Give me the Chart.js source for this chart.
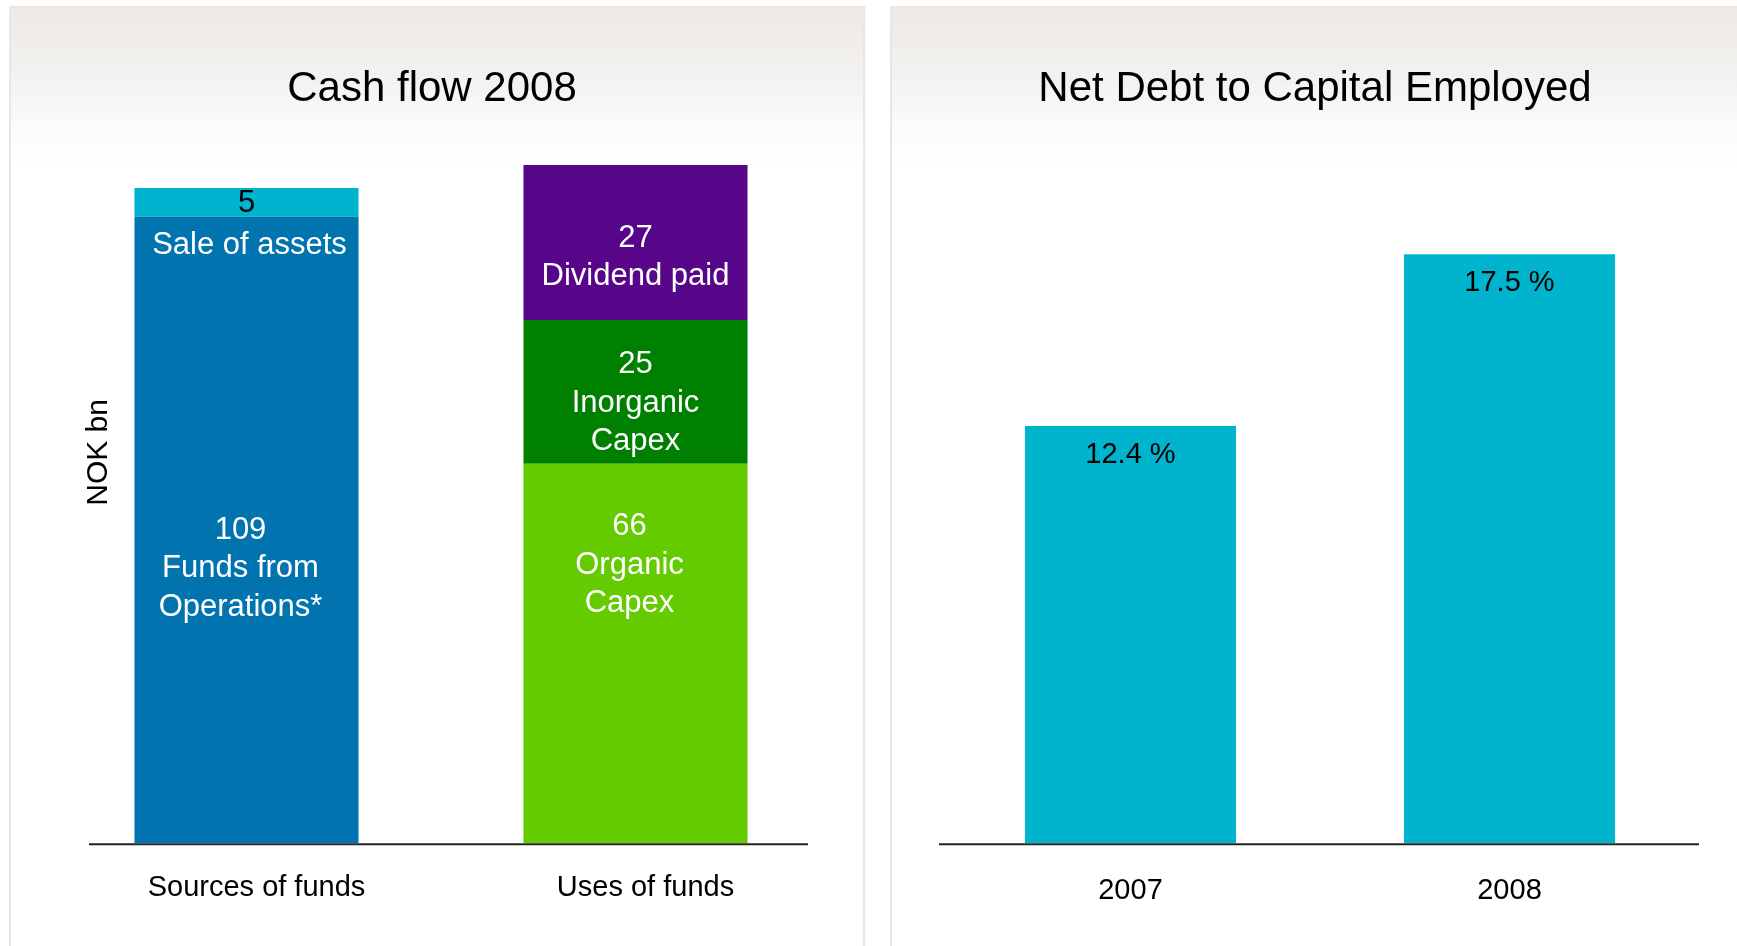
<!DOCTYPE html>
<html>
<head>
<meta charset="utf-8">
<script src="https://cdn.jsdelivr.net/npm/chart.js@4/dist/chart.umd.min.js"></script>
<style>
html,body{margin:0;padding:0;background:#fff;width:1737px;height:946px;overflow:hidden}
.panel{position:absolute;top:6px;height:960px;box-sizing:border-box;border:2px solid #e9e6e3;border-bottom:none;
  background:linear-gradient(to bottom,#ece9e6 0px,#f4f2f0 70px,#fbfbfa 120px,#fff 160px)}
.box{position:absolute;top:6px;height:940px}
</style>
</head>
<body>
<div class="panel" style="left:9px;width:856px"></div>
<div class="panel" style="left:890px;width:870px"></div>
<div class="box" style="left:10px;width:853px"><canvas id="cashFlow"></canvas></div>
<div class="box" style="left:891px;width:846px"><canvas id="netDebt"></canvas></div>
<script>
// data
var categories = ["Sources of funds", "Uses of funds"];
var fundsFromOps = [109, null];
var saleOfAssets = [5, null];
var organicCapex = [null, 66];
var inorganicCapex = [null, 25];
var dividendPaid = [null, 27];
var years = ["2007", "2008"];
var netDebtRatio = [12.4, 17.5];

var F = '"Liberation Sans", Arial, sans-serif';
var LH = 38.5;

// draws the texts inside the bars
var barText = {
  id: "barText",
  afterDatasetsDraw: function(chart, args, opts) {
    var ctx = chart.ctx;
    ctx.save();
    ctx.textAlign = "center";
    ctx.textBaseline = "middle";
    ctx.font = opts.size + "px " + F;
    opts.items.forEach(function(it) {
      var el = chart.getDatasetMeta(it.ds).data[it.idx];
      if (!el) return;
      var n = it.lines.length, y;
      if (it.at == "center") y = (el.y + el.base) / 2 - (n - 1) * LH / 2 + (it.dy || 0);
      else if (it.at == "top") y = el.y + it.dy;
      else y = el.base + it.dy;
      ctx.fillStyle = it.color;
      it.lines.forEach(function(l, k) { ctx.fillText(l, el.x + (it.dx || 0), y + k * LH); });
    });
    if (opts.yTitle) {
      var a = chart.chartArea;
      ctx.translate(a.left + 47, a.top + 299);
      ctx.rotate(-Math.PI / 2);
      ctx.fillStyle = "#000";
      ctx.font = "30px " + F;
      ctx.fillText(opts.yTitle, 0, 0);
    }
    ctx.restore();
  }
};

// the black base line
var baseLine = {
  id: "baseLine",
  beforeDatasetsDraw: function(chart, args, opts) {
    var a = chart.chartArea, ctx = chart.ctx;
    var y = chart.scales.y.getPixelForValue(0);
    ctx.save();
    ctx.strokeStyle = "#222";
    ctx.lineWidth = 2;
    ctx.beginPath();
    ctx.moveTo(a.left + opts.l, y + 1);
    ctx.lineTo(a.right - opts.r, y + 1);
    ctx.stroke();
    ctx.restore();
  }
};

function ds(label, data, color) {
  return { label: label, data: data, backgroundColor: color, categoryPercentage: 1, barPercentage: 0.576 };
}

// hidden y axis with a fixed width
function hiddenY(w, max, stacked) {
  return { stacked: stacked, display: true, min: 0, max: max,
    ticks: { display: false }, grid: { display: false, drawTicks: false }, border: { display: false },
    afterFit: function(s) { s.width = w; } };
}

new Chart(document.getElementById("cashFlow"), {
  type: "bar",
  data: {
    labels: categories,
    datasets: [
      ds("Funds from Operations*", fundsFromOps, "#0174b0"),
      ds("Sale of assets", saleOfAssets, "#00b3ce"),
      ds("Organic Capex", organicCapex, "#63cb00"),
      ds("Inorganic Capex", inorganicCapex, "#008000"),
      ds("Dividend paid", dividendPaid, "#57068a")
    ]
  },
  plugins: [baseLine, barText],
  options: {
    responsive: true, maintainAspectRatio: false, animation: false,
    layout: { padding: { left: 24, right: 33, top: 0, bottom: 14 } },
    plugins: {
      legend: { display: false },
      tooltip: { enabled: false },
      title: { display: true, text: "Cash flow 2008", color: "#000",
        font: { size: 42, weight: "normal", family: F }, padding: { top: 58, bottom: 39 } },
      baseLine: { l: 37, r: 22 },
      barText: {
        size: 31,
        yTitle: "NOK bn",
        items: [
          { ds: 0, idx: 0, at: "center", dy: 39, dx: -6, color: "#fff", lines: [String(fundsFromOps[0]), "Funds from", "Operations*"] },
          { ds: 1, idx: 0, at: "center", dy: 1, color: "#000", lines: [String(saleOfAssets[0])] },
          { ds: 1, idx: 0, at: "base", dy: 29, dx: 3, color: "#fff", lines: ["Sale of assets"] },
          { ds: 2, idx: 1, at: "top", dy: 63, dx: -6, color: "#fff", lines: [String(organicCapex[1]), "Organic", "Capex"] },
          { ds: 3, idx: 1, at: "center", dy: 11, color: "#fff", lines: [String(inorganicCapex[1]), "Inorganic", "Capex"] },
          { ds: 4, idx: 1, at: "center", dy: 15, color: "#fff", lines: [String(dividendPaid[1]), "Dividend paid"] }
        ]
      }
    },
    scales: {
      x: { stacked: true, grid: { display: false, drawTicks: false }, border: { display: false },
        ticks: { color: "#000", font: { size: 29, family: F }, padding: 27, labelOffset: 10 } },
      y: hiddenY(18, 120, true)
    }
  }
});

new Chart(document.getElementById("netDebt"), {
  type: "bar",
  data: {
    labels: years,
    datasets: [{ label: "Net Debt to Capital Employed", data: netDebtRatio, backgroundColor: "#00b4cd",
      categoryPercentage: 1, barPercentage: 0.557 }]
  },
  plugins: [baseLine, barText],
  options: {
    responsive: true, maintainAspectRatio: false, animation: false,
    layout: { padding: { left: 40, right: 38, top: 0, bottom: 8 } },
    plugins: {
      legend: { display: false },
      tooltip: { enabled: false },
      title: { display: true, text: "Net Debt to Capital Employed", color: "#000",
        font: { size: 42, weight: "normal", family: F }, padding: { top: 58, bottom: 39 } },
      baseLine: { l: -2, r: 0 },
      barText: {
        size: 29,
        items: netDebtRatio.map(function(v, i) {
          return { ds: 0, idx: i, at: "top", dy: 29, color: "#000", lines: [v.toFixed(1) + " %"] };
        })
      }
    },
    scales: {
      x: { grid: { display: false, drawTicks: false }, border: { display: false },
        ticks: { color: "#000", font: { size: 29, family: F }, padding: 30 } },
      y: hiddenY(10, 20.5, false)
    }
  }
});
</script>
</body>
</html>
